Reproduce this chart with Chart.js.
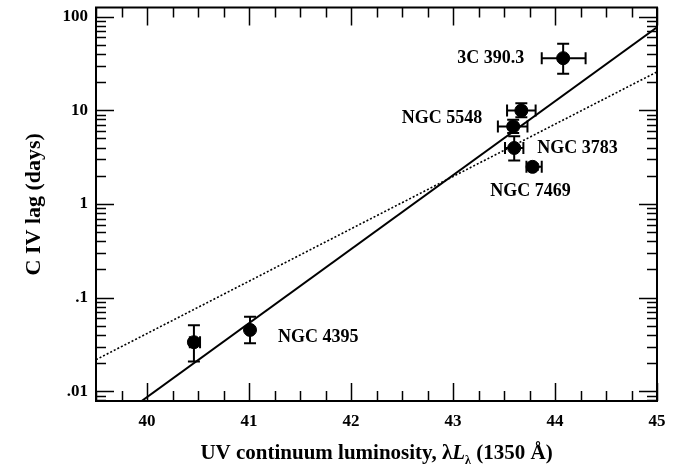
<!DOCTYPE html>
<html>
<head>
<meta charset="utf-8">
<script src="https://cdn.jsdelivr.net/npm/chart.js@4/dist/chart.umd.min.js"></script>
<style>
  html, body { margin: 0; padding: 0; background: #fff; }
  #wrap { width: 689px; height: 470px; }
</style>
</head>
<body>
<div id="wrap"><canvas id="chart" width="689" height="470"></canvas></div>
<script>
// objects (AGN) and their values
const objectNames = ['NGC 4395', 'NGC 4395', 'NGC 5548', 'NGC 5548', 'NGC 3783', 'NGC 7469', '3C 390.3'];
const luminosity = [40.46, 41.01, 43.59, 43.67, 43.60, 43.78, 44.08];
const lumLow     = [40.42, 40.99, 43.44, 43.53, 43.51, 43.72, 43.87];
const lumHigh    = [40.52, 41.03, 43.73, 43.81, 43.69, 43.87, 44.30];
const lag        = [0.0335, 0.0453, 6.72, 9.93, 3.96, 2.49, 36];
const lagLow     = [0.0209, 0.0327, 5.71, 8.43, 2.91, 2.31, 24.6];
const lagHigh    = [0.0509, 0.0626, 7.91, 11.9, 5.27, 2.68, 51.3];

// which point each name label belongs to
const labelNames = ['NGC 4395', 'NGC 5548', 'NGC 3783', 'NGC 7469', '3C 390.3'];
const labelPoint = [1, 2, 4, 5, 6];

// fitted lines, ends read at the plot edges
const solidFitX = [39.5, 45];
const solidFitY = [0.0035, 77];
const dottedFitX = [39.5, 45];
const dottedFitY = [0.0218, 25.7];

// axis ticks
const xTickValues = [40, 41, 42, 43, 44, 45];
const yTickValues = [0.01, 0.1, 1, 10, 100];
const yTickLabels = ['.01', '.1', '1', '10', '100'];

// label placement relative to its point (pixels)
const labelLayout = [
  { dx: 28, dy: 7, align: 'left' },
  { dx: -31, dy: -8, align: 'right' },
  { dx: 23, dy: 0, align: 'left' },
  { dx: -2, dy: 24, align: 'center' },
  { dx: -39, dy: 0, align: 'right' }
];

const serif = '"Liberation Serif", "DejaVu Serif", serif';

const points = luminosity.map((x, i) => ({ x: x, y: lag[i] }));

const framePlugin = {
  id: 'frame',
  afterDatasetsDraw(chart) {
    const ctx = chart.ctx;
    const a = chart.chartArea;
    const xs = chart.scales.x;
    const ys = chart.scales.y;
    ctx.save();
    ctx.strokeStyle = '#000';
    ctx.lineCap = 'butt';

    // error bars
    ctx.lineWidth = 2;
    const cap = 6;
    points.forEach((p, i) => {
      const px = xs.getPixelForValue(p.x);
      const py = ys.getPixelForValue(p.y);
      const x0 = xs.getPixelForValue(lumLow[i]);
      const x1 = xs.getPixelForValue(lumHigh[i]);
      const y0 = ys.getPixelForValue(lagLow[i]);
      const y1 = ys.getPixelForValue(lagHigh[i]);
      ctx.beginPath();
      ctx.moveTo(x0, py); ctx.lineTo(x1, py);
      ctx.moveTo(x0, py - cap); ctx.lineTo(x0, py + cap);
      ctx.moveTo(x1, py - cap); ctx.lineTo(x1, py + cap);
      ctx.moveTo(px, y0); ctx.lineTo(px, y1);
      ctx.moveTo(px - cap, y0); ctx.lineTo(px + cap, y0);
      ctx.moveTo(px - cap, y1); ctx.lineTo(px + cap, y1);
      ctx.stroke();
    });

    // frame
    ctx.lineWidth = 2;
    ctx.strokeRect(a.left, a.top, a.right - a.left, a.bottom - a.top);

    // inward ticks on all four sides
    ctx.lineWidth = 1.5;
    ctx.beginPath();
    for (let v = xs.min; v <= xs.max + 1e-9; v += 0.25) {
      const major = Math.abs(v - Math.round(v)) < 1e-6;
      const len = major ? 18 : 10;
      const px = Math.round(xs.getPixelForValue(v)) + 0.5;
      ctx.moveTo(px, a.bottom); ctx.lineTo(px, a.bottom - len);
      ctx.moveTo(px, a.top); ctx.lineTo(px, a.top + len);
    }
    for (let e = -3; e <= 2; e++) {
      for (let k = 1; k <= 9; k++) {
        const v = k * Math.pow(10, e);
        if (v < ys.min || v > ys.max) continue;
        const len = k === 1 ? 18 : 10;
        const py = Math.round(ys.getPixelForValue(v)) + 0.5;
        ctx.moveTo(a.left, py); ctx.lineTo(a.left + len, py);
        ctx.moveTo(a.right, py); ctx.lineTo(a.right - len, py);
      }
    }
    ctx.stroke();

    // object names
    ctx.fillStyle = '#000';
    ctx.font = 'bold 18px ' + serif;
    ctx.textBaseline = 'middle';
    labelNames.forEach((name, i) => {
      const p = points[labelPoint[i]];
      const lay = labelLayout[i];
      ctx.textAlign = lay.align;
      ctx.fillText(name, xs.getPixelForValue(p.x) + lay.dx, ys.getPixelForValue(p.y) + lay.dy);
    });

    // y axis title
    ctx.save();
    ctx.translate(34, (a.top + a.bottom) / 2);
    ctx.rotate(-Math.PI / 2);
    ctx.textAlign = 'center';
    ctx.font = 'bold 22px ' + serif;
    ctx.fillText('C IV lag (days)', 0, 0);
    ctx.restore();

    // x axis title with italic L and subscript lambda
    const runs = [
      { t: 'UV continuum luminosity, \u03bb', f: 'bold 21px ' + serif, dy: 0 },
      { t: 'L', f: 'italic bold 21px ' + serif, dy: 0 },
      { t: '\u03bb', f: 'bold 12px ' + serif, dy: 5 },
      { t: ' (1350 \u00c5)', f: 'bold 21px ' + serif, dy: 0 }
    ];
    let total = 0;
    runs.forEach(r => { ctx.font = r.f; r.w = ctx.measureText(r.t).width; total += r.w; });
    let tx = (a.left + a.right) / 2 - total / 2;
    const base = 459;
    ctx.textAlign = 'left';
    ctx.textBaseline = 'alphabetic';
    runs.forEach(r => {
      ctx.font = r.f;
      ctx.fillText(r.t, tx, base + r.dy);
      tx += r.w;
    });
    ctx.restore();
  }
};

new Chart(document.getElementById('chart'), {
  type: 'scatter',
  data: {
    datasets: [
      {
        data: solidFitX.map((x, i) => ({ x: x, y: solidFitY[i] })),
        type: 'line',
        showLine: true,
        borderColor: '#000',
        borderWidth: 2,
        pointRadius: 0
      },
      {
        data: dottedFitX.map((x, i) => ({ x: x, y: dottedFitY[i] })),
        type: 'line',
        showLine: true,
        borderColor: '#000',
        borderWidth: 1.6,
        borderDash: [2, 2],
        pointRadius: 0
      },
      {
        data: points,
        backgroundColor: '#000',
        borderColor: '#000',
        pointRadius: 6.5,
        pointHoverRadius: 6.5
      }
    ]
  },
  options: {
    responsive: false,
    animation: false,
    events: [],
    layout: { padding: { top: 5, right: 32, left: 0, bottom: 0 } },
    plugins: {
      legend: { display: false },
      tooltip: { enabled: false }
    },
    scales: {
      x: {
        type: 'linear',
        min: 39.5,
        max: 45,
        afterBuildTicks: (scale) => { scale.ticks = xTickValues.map(v => ({ value: v })); },
        afterFit: (scale) => { scale.height = 69; scale.paddingLeft = 0; scale.paddingRight = 0; },
        grid: { display: false, drawTicks: false },
        border: { display: false },
        ticks: {
          color: '#000',
          padding: 10,
          maxRotation: 0,
          font: { family: serif, weight: 'bold', size: 17 },
          callback: (v) => String(v)
        }
      },
      y: {
        type: 'logarithmic',
        min: 0.0079,
        max: 125,
        afterBuildTicks: (scale) => { scale.ticks = yTickValues.map(v => ({ value: v })); },
        afterFit: (scale) => { scale.width = 96; scale.paddingTop = 0; scale.paddingBottom = 0; },
        grid: { display: false, drawTicks: false },
        border: { display: false },
        ticks: {
          color: '#000',
          padding: 8,
          font: { family: serif, weight: 'bold', size: 17 },
          callback: (v) => yTickLabels[yTickValues.indexOf(v)] || ''
        }
      }
    }
  },
  plugins: [framePlugin]
});
</script>
</body>
</html>
